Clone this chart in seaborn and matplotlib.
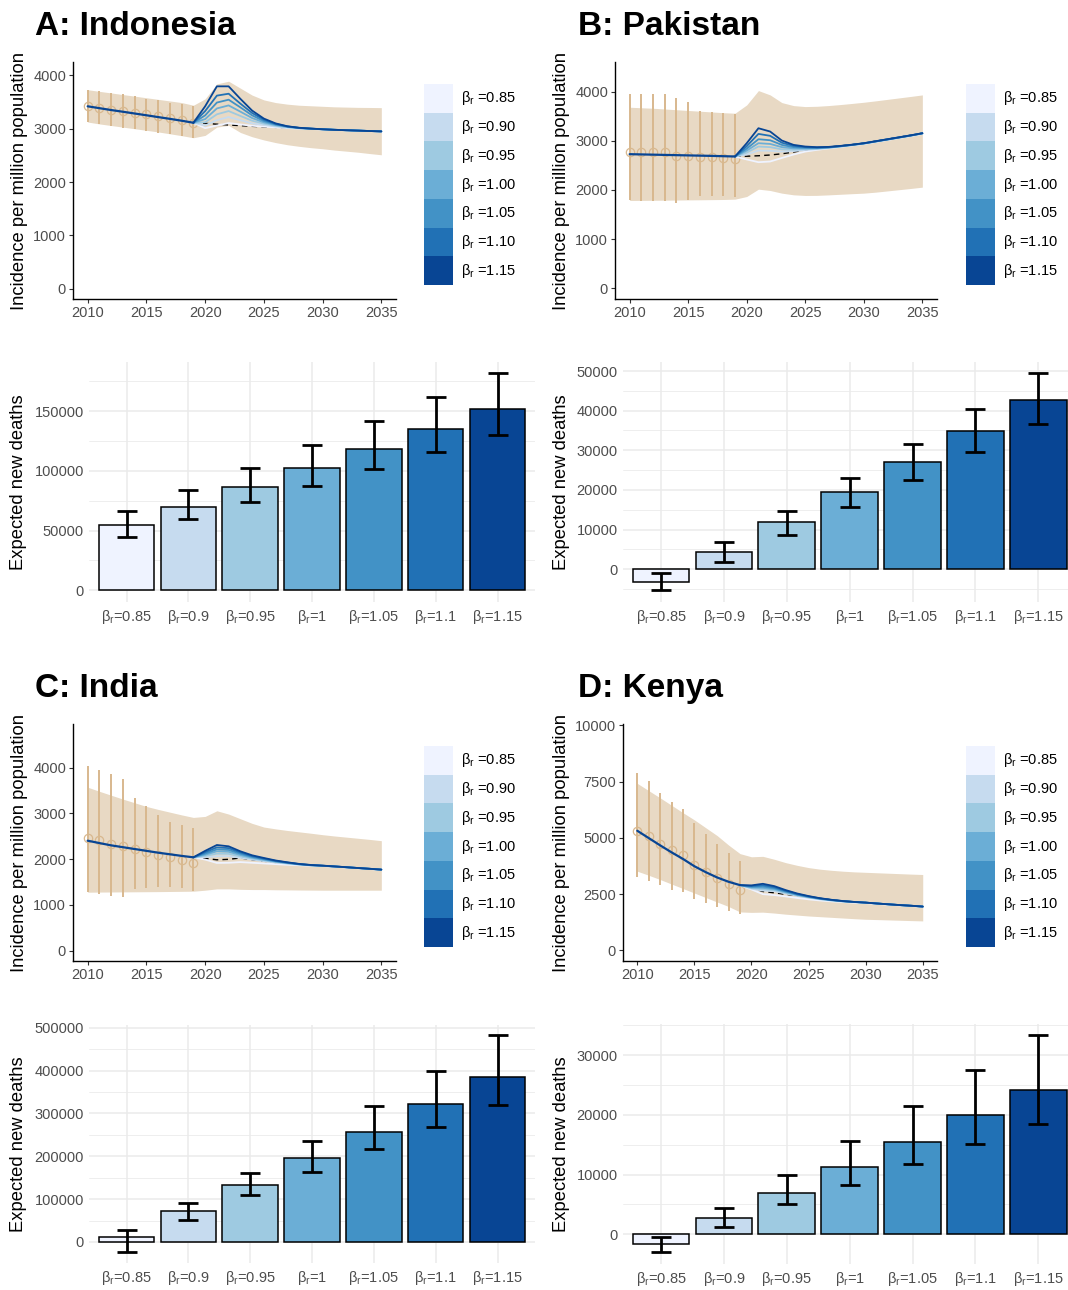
import numpy as np
import pandas as pd
import matplotlib
matplotlib.use("Agg")
import matplotlib.pyplot as plt
from matplotlib.patches import Rectangle
from matplotlib.ticker import MultipleLocator, StrMethodFormatter
import seaborn as sns

sns.set_theme(style="white")
plt.rcParams['font.family'] = ['Liberation Sans', 'DejaVu Sans']
plt.rcParams['mathtext.fontset'] = 'custom'
plt.rcParams['mathtext.rm'] = 'Liberation Sans'
plt.rcParams['mathtext.it'] = 'Liberation Sans:italic'
plt.rcParams['mathtext.bf'] = 'Liberation Sans:bold'

# ---------------------------------------------------------------- data
YEARS_ALL = list(range(2010, 2036))
YEARS_OBS = list(range(2010, 2020))
YEARS_PROJ = list(range(2019, 2036))

BETAS = ["0.85", "0.90", "0.95", "1.00", "1.05", "1.10", "1.15"]
BAR_TICKS = ["0.85", "0.9", "0.95", "1", "1.05", "1.1", "1.15"]
BLUES = ["#EFF3FF", "#C6DBEF", "#9ECAE1", "#6BAED6", "#4292C6", "#2171B5", "#084594"]

# Indonesia
IDN_FIT = [3420, 3385, 3350, 3318, 3285, 3252, 3218, 3185, 3150, 3112]
IDN_OBS = [3420, 3388, 3356, 3331, 3300, 3269, 3238, 3206, 3169, 3112]
IDN_OBS_LO = [3125, 3081, 3044, 3012, 2988, 2956, 2925, 2894, 2856, 2831]
IDN_OBS_HI = [3731, 3706, 3675, 3644, 3606, 3562, 3531, 3487, 3469, 3419]
IDN_BAND_HI = [3731, 3700, 3670, 3640, 3610, 3580, 3550, 3520, 3490, 3440, 3560, 3840, 3890,
               3760, 3630, 3540, 3490, 3460, 3440, 3430, 3420, 3410, 3405, 3400, 3398, 3395]
IDN_BAND_LO = [3125, 3090, 3060, 3030, 3000, 2970, 2940, 2905, 2870, 2831, 2875, 3031, 3062,
               2930, 2850, 2790, 2740, 2700, 2670, 2645, 2625, 2600, 2580, 2560, 2535, 2512]
IDN_BASE = [3112, 3100, 3085, 3070, 3058, 3045, 3035, 3025, 3015, 3005, 2997, 2990, 2980, 2972, 2965, 2957, 2950]
IDN_B085 = [3112, 3010, 3060, 3106, 3080, 3055, 3040, 3025, 3012, 3002, 2994, 2987, 2979, 2971, 2964, 2956, 2949]
IDN_B090 = [3112, 3060, 3160, 3219, 3160, 3100, 3070, 3040, 3020, 3005, 2996, 2988, 2980, 2972, 2965, 2957, 2950]
IDN_B095 = [3112, 3120, 3270, 3331, 3240, 3150, 3095, 3055, 3028, 3010, 2998, 2989, 2980, 2972, 2965, 2957, 2950]
IDN_B100 = [3112, 3180, 3380, 3437, 3320, 3200, 3120, 3068, 3035, 3013, 3000, 2990, 2980, 2972, 2965, 2957, 2950]
IDN_B105 = [3112, 3250, 3490, 3544, 3400, 3250, 3145, 3080, 3040, 3015, 3001, 2990, 2980, 2972, 2965, 2957, 2950]
IDN_B110 = [3112, 3330, 3620, 3656, 3470, 3295, 3170, 3090, 3043, 3016, 3002, 2990, 2980, 2972, 2965, 2957, 2950]
IDN_B115 = [3112, 3420, 3794, 3794, 3560, 3340, 3190, 3100, 3046, 3018, 3003, 2990, 2980, 2972, 2965, 2957, 2950]
IDN_DEATHS = [54500, 70100, 86000, 102200, 118400, 135200, 152000]
IDN_DEATHS_LO = [44700, 59500, 73500, 87400, 101100, 115400, 129600]
IDN_DEATHS_HI = [66200, 83800, 102500, 121500, 141600, 161500, 182100]

# Pakistan
PAK_FIT = [2727, 2722, 2717, 2712, 2707, 2702, 2697, 2692, 2686, 2680]
PAK_OBS = [2767, 2767, 2774, 2767, 2693, 2693, 2673, 2666, 2652, 2625]
PAK_OBS_LO = [1786, 1773, 1766, 1766, 1732, 1786, 1881, 1867, 1867, 1854]
PAK_OBS_HI = [3945, 3958, 3958, 3945, 3877, 3796, 3606, 3579, 3559, 3539]
PAK_BAND_HI = [3681, 3670, 3660, 3645, 3630, 3615, 3600, 3585, 3570, 3559, 3728, 4019, 3931,
               3775, 3714, 3694, 3700, 3715, 3735, 3758, 3782, 3810, 3840, 3870, 3900, 3931]
PAK_BAND_LO = [1786, 1788, 1790, 1792, 1795, 1798, 1800, 1803, 1806, 1813, 1867, 2016, 1989,
               1935, 1901, 1888, 1890, 1900, 1912, 1924, 1935, 1955, 1980, 2005, 2030, 2057]
PAK_BASE = [2680, 2685, 2695, 2710, 2735, 2770, 2810, 2840, 2870, 2895, 2920, 2950, 2990, 3030, 3070, 3110, 3153]
PAK_B085 = [2680, 2620, 2564, 2578, 2650, 2720, 2780, 2815, 2845, 2875, 2905, 2935, 2975, 3015, 3055, 3095, 3140]
PAK_B090 = [2680, 2720, 2801, 2795, 2780, 2790, 2812, 2830, 2852, 2880, 2910, 2940, 2980, 3020, 3060, 3100, 3145]
PAK_B095 = [2680, 2760, 2882, 2870, 2825, 2818, 2828, 2839, 2857, 2883, 2912, 2942, 2982, 3022, 3062, 3102, 3147]
PAK_B100 = [2680, 2800, 2950, 2935, 2870, 2845, 2843, 2847, 2862, 2886, 2914, 2944, 2984, 3024, 3064, 3104, 3149]
PAK_B105 = [2680, 2840, 3031, 3010, 2915, 2870, 2857, 2855, 2866, 2889, 2916, 2946, 2986, 3026, 3066, 3106, 3151]
PAK_B110 = [2680, 2890, 3139, 3100, 2960, 2895, 2870, 2862, 2870, 2892, 2918, 2948, 2988, 3028, 3068, 3108, 3152]
PAK_B115 = [2680, 2950, 3254, 3187, 3004, 2916, 2882, 2869, 2875, 2895, 2920, 2950, 2990, 3030, 3070, 3110, 3153]
PAK_DEATHS = [-3100, 4360, 11990, 19530, 27070, 34870, 42580]
PAK_DEATHS_LO = [-5280, 1760, 8630, 15760, 22630, 29590, 36630]
PAK_DEATHS_HI = [-1000, 6790, 14750, 23050, 31520, 40490, 49450]

# India
IND_FIT = [2402, 2350, 2300, 2260, 2220, 2180, 2140, 2105, 2070, 2039]
IND_OBS = [2460, 2409, 2337, 2279, 2228, 2163, 2097, 2039, 1988, 1916]
IND_OBS_LO = [1277, 1241, 1205, 1168, 1350, 1364, 1393, 1393, 1372, 1299]
IND_OBS_HI = [4042, 3948, 3853, 3745, 3331, 3149, 2954, 2816, 2736, 2670]
IND_BAND_HI = [3570, 3480, 3395, 3310, 3230, 3150, 3085, 3025, 2965, 2910, 2932, 3055, 2983,
               2881, 2780, 2700, 2660, 2625, 2595, 2565, 2533, 2505, 2480, 2455, 2430, 2402]
IND_BAND_LO = [1277, 1280, 1282, 1284, 1286, 1288, 1290, 1293, 1296, 1299, 1321, 1350, 1350,
               1340, 1335, 1335, 1330, 1328, 1325, 1323, 1321, 1321, 1321, 1321, 1321, 1321]
IND_BASE = [2039, 2015, 1985, 1995, 2025, 1988, 1954, 1924, 1900, 1880, 1862, 1850, 1837, 1820, 1803, 1786, 1768]
IND_B085 = [2039, 1990, 1916, 1920, 1935, 1920, 1905, 1890, 1877, 1866, 1856, 1848, 1835, 1818, 1801, 1784, 1767]
IND_B090 = [2039, 2045, 2061, 2065, 2030, 1990, 1955, 1925, 1900, 1880, 1862, 1850, 1837, 1820, 1803, 1786, 1768]
IND_B095 = [2039, 2070, 2119, 2115, 2060, 2010, 1970, 1935, 1908, 1883, 1864, 1852, 1838, 1821, 1804, 1787, 1769]
IND_B100 = [2039, 2095, 2170, 2160, 2090, 2030, 1985, 1945, 1914, 1886, 1866, 1854, 1839, 1822, 1805, 1788, 1770]
IND_B105 = [2039, 2120, 2213, 2200, 2118, 2048, 1999, 1953, 1920, 1889, 1868, 1855, 1840, 1823, 1805, 1788, 1770]
IND_B110 = [2039, 2150, 2257, 2240, 2145, 2065, 2012, 1962, 1925, 1892, 1870, 1856, 1840, 1823, 1806, 1789, 1771]
IND_B115 = [2039, 2180, 2308, 2279, 2170, 2083, 2025, 1970, 1930, 1895, 1872, 1858, 1841, 1824, 1806, 1789, 1771]
IND_DEATHS = [10900, 71500, 133000, 195200, 257400, 321200, 384900]
IND_DEATHS_LO = [-24100, 50500, 109600, 164000, 216200, 268300, 320400]
IND_DEATHS_HI = [28000, 90200, 160200, 236400, 317300, 398900, 482900]

# Kenya
KEN_FIT = [5317, 4993, 4669, 4359, 4065, 3741, 3476, 3240, 3049, 2901]
KEN_OBS = [5317, 5066, 4713, 4448, 4256, 3800, 3490, 3196, 2931, 2680]
KEN_OBS_LO = [3270, 3078, 2887, 2695, 2577, 2297, 2121, 1944, 1753, 1605]
KEN_OBS_HI = [7864, 7526, 7010, 6583, 6289, 5655, 5184, 4742, 4330, 3976]
KEN_BAND_HI = [7423, 7100, 6780, 6450, 6120, 5800, 5450, 5100, 4680, 4300, 4160, 4180, 4050,
               3900, 3780, 3680, 3610, 3560, 3520, 3490, 3470, 3450, 3430, 3410, 3390, 3373]
KEN_BAND_LO = [3520, 3340, 3150, 2950, 2750, 2550, 2350, 2150, 1950, 1710, 1690, 1700, 1660,
               1610, 1570, 1530, 1500, 1470, 1440, 1410, 1384, 1370, 1355, 1340, 1325, 1311]
KEN_BASE = [2901, 2780, 2620, 2560, 2490, 2430, 2380, 2310, 2245, 2190, 2155, 2125, 2085, 2050, 2015, 1985, 1950]
KEN_B085 = [2901, 2710, 2500, 2460, 2400, 2330, 2270, 2220, 2180, 2150, 2120, 2100, 2065, 2030, 2000, 1970, 1938]
KEN_B090 = [2901, 2740, 2660, 2630, 2530, 2425, 2345, 2270, 2215, 2175, 2145, 2118, 2080, 2045, 2010, 1980, 1945]
KEN_B095 = [2901, 2770, 2720, 2675, 2560, 2445, 2358, 2282, 2225, 2180, 2148, 2120, 2082, 2047, 2012, 1982, 1947]
KEN_B100 = [2901, 2800, 2780, 2720, 2590, 2465, 2371, 2292, 2233, 2184, 2150, 2122, 2083, 2048, 2013, 1983, 1948]
KEN_B105 = [2901, 2830, 2840, 2765, 2620, 2485, 2385, 2302, 2240, 2188, 2152, 2123, 2084, 2049, 2014, 1984, 1949]
KEN_B110 = [2901, 2860, 2900, 2810, 2650, 2505, 2400, 2312, 2245, 2192, 2154, 2124, 2085, 2050, 2015, 1985, 1950]
KEN_B115 = [2901, 2890, 2960, 2857, 2680, 2530, 2415, 2320, 2250, 2195, 2155, 2125, 2085, 2050, 2015, 1985, 1950]
KEN_DEATHS = [-1560, 2790, 6920, 11270, 15500, 19910, 24200]
KEN_DEATHS_LO = [-3010, 1280, 5020, 8310, 11770, 15170, 18460]
KEN_DEATHS_HI = [-390, 4400, 9870, 15620, 21530, 27440, 33300]

# ---------------------------------------------------------------- styling
W, H = 1068, 1290
BAND = "#E8D9C4"
OBS_COL = "#D8B88E"
TICK_COL = "#4D4D4D"
GRID = "#EBEBEB"

LEGEND_LABELS = [r"β$_\mathregular{r}$ =" + b for b in BETAS]
BAR_LABELS = [r"β$_\mathregular{r}$=" + b for b in BAR_TICKS]

fig = plt.figure(figsize=(W / 100, H / 100), dpi=100)


def box(x0, y0, x1, y1):
    return [x0 / W, 1 - y1 / H, (x1 - x0) / W, (y1 - y0) / H]


def label_at(ax, text, x_px, x0, x1):
    ax.set_ylabel(text, fontsize=13.2, color="black", va="center")
    ax.yaxis.set_label_coords((x_px - x0) / (x1 - x0), 0.5)


def line_panel(rect, fit, obs, obs_lo, obs_hi, band_hi, band_lo, base, scen,
               ylim, yticks, ylabel_x):
    x0, y0, x1, y1 = rect
    ax = fig.add_axes(box(*rect))
    ax.fill_between(YEARS_ALL, band_lo, band_hi, color=BAND, lw=0, zorder=1)
    obs = np.array(obs)
    ax.errorbar(YEARS_OBS, obs, yerr=[obs - np.array(obs_lo), np.array(obs_hi) - obs],
                fmt="o", ms=6, mfc="none", mec=OBS_COL, mew=0.9,
                ecolor=OBS_COL, elinewidth=1.4, capsize=0, zorder=2)
    ax.plot(YEARS_PROJ, base, color="black", lw=1.0, dashes=(4, 3), zorder=3)
    long = pd.DataFrame({
        "year": YEARS_PROJ * len(BETAS),
        "incidence": np.concatenate(scen),
        "beta": np.repeat(BETAS, len(YEARS_PROJ)),
    })
    sns.lineplot(data=long, x="year", y="incidence", hue="beta", hue_order=BETAS,
                 palette=BLUES, linewidth=1.3, legend=False, errorbar=None,
                 ax=ax, zorder=4)
    sns.lineplot(x=YEARS_OBS, y=fit, color=BLUES[-1], linewidth=1.6, ax=ax, zorder=5)
    ax.set_xlim(2008.75, 2036.25)
    ax.set_ylim(*ylim)
    ax.set_xticks([2010, 2015, 2020, 2025, 2030, 2035])
    ax.set_yticks(yticks)
    ax.yaxis.set_major_formatter(StrMethodFormatter("{x:.0f}"))
    for s in ["top", "right"]:
        ax.spines[s].set_visible(False)
    for s in ["left", "bottom"]:
        ax.spines[s].set_color("black")
        ax.spines[s].set_linewidth(1.0)
    ax.tick_params(axis="both", which="major", bottom=True, left=True, length=3,
                   width=0.8, color="#333333", labelsize=10.5, labelcolor=TICK_COL, pad=2)
    ax.set_xlabel("")
    label_at(ax, "Incidence per million population", ylabel_x, x0, x1)
    return ax


def legend_panel(rect, label_x):
    x0, y0, x1, y1 = rect
    lax = fig.add_axes(box(*rect))
    lax.set_xlim(0, 1)
    lax.set_ylim(len(BETAS), 0)
    lax.axis("off")
    for i, (c, lab) in enumerate(zip(BLUES, LEGEND_LABELS)):
        lax.add_patch(Rectangle((0, i), 1, 1, facecolor=c, edgecolor="none"))
        lax.text((label_x - x0) / (x1 - x0), i + 0.5, lab, fontsize=10.5,
                 color="black", ha="left", va="center")


def bar_panel(rect, vals, lo, hi, ylim, major, minor, ylabel_x):
    x0, y0, x1, y1 = rect
    ax = fig.add_axes(box(*rect))
    df = pd.DataFrame({"beta": BAR_LABELS, "deaths": vals})
    sns.barplot(data=df, x="beta", y="deaths", hue="beta", hue_order=BAR_LABELS,
                palette=BLUES, saturation=1, dodge=False, width=0.9, edgecolor="black",
                linewidth=1.1, errorbar=None, legend=False, ax=ax, zorder=2)
    vals = np.array(vals)
    ax.errorbar(np.arange(len(vals)), vals,
                yerr=[vals - np.array(lo), np.array(hi) - vals],
                fmt="none", ecolor="black", elinewidth=2.0, capsize=7, capthick=2.0,
                zorder=3)
    ax.set_xlim(-0.6, 6.6)
    ax.set_ylim(*ylim)
    ax.yaxis.set_major_locator(MultipleLocator(major))
    ax.yaxis.set_minor_locator(MultipleLocator(minor))
    ax.yaxis.set_major_formatter(StrMethodFormatter("{x:.0f}"))
    ax.set_axisbelow(True)
    ax.grid(True, which="major", color=GRID, linewidth=1.1)
    ax.grid(True, which="minor", axis="y", color=GRID, linewidth=0.6)
    for s in ax.spines.values():
        s.set_visible(False)
    ax.tick_params(axis="both", which="both", length=0, labelsize=10.5,
                   labelcolor=TICK_COL)
    ax.tick_params(axis="x", pad=4)
    ax.tick_params(axis="y", pad=4)
    ax.set_xlabel("")
    label_at(ax, "Expected new deaths", ylabel_x, x0, x1)
    return ax


panels = [
    dict(title="A: Indonesia", tx=35, ty=35,
         line=(73, 62, 396, 299), leg=(424, 84, 453, 285), legx=461,
         bar=(89.4, 362, 534.6, 602), ylx=19,
         fit=IDN_FIT, obs=IDN_OBS, lo=IDN_OBS_LO, hi=IDN_OBS_HI,
         bhi=IDN_BAND_HI, blo=IDN_BAND_LO, base=IDN_BASE,
         scen=[IDN_B085, IDN_B090, IDN_B095, IDN_B100, IDN_B105, IDN_B110, IDN_B115],
         ylim=(-190, 4250), yticks=[0, 1000, 2000, 3000, 4000],
         d=IDN_DEATHS, dlo=IDN_DEATHS_LO, dhi=IDN_DEATHS_HI,
         bylim=(-9800, 191000), bmaj=50000, bmin=25000),
    dict(title="B: Pakistan", tx=578, ty=35,
         line=(615, 62, 937, 299), leg=(966, 84, 995, 285), legx=1003,
         bar=(623.3, 362, 1076, 602), ylx=561,
         fit=PAK_FIT, obs=PAK_OBS, lo=PAK_OBS_LO, hi=PAK_OBS_HI,
         bhi=PAK_BAND_HI, blo=PAK_BAND_LO, base=PAK_BASE,
         scen=[PAK_B085, PAK_B090, PAK_B095, PAK_B100, PAK_B105, PAK_B110, PAK_B115],
         ylim=(-216, 4600), yticks=[0, 1000, 2000, 3000, 4000],
         d=PAK_DEATHS, dlo=PAK_DEATHS_LO, dhi=PAK_DEATHS_HI,
         bylim=(-8245, 52270), bmaj=10000, bmin=5000),
    dict(title="C: India", tx=35, ty=697,
         line=(73, 724, 396, 961), leg=(424, 746, 453, 947), legx=461,
         bar=(89.4, 1025, 534.6, 1263), ylx=19,
         fit=IND_FIT, obs=IND_OBS, lo=IND_OBS_LO, hi=IND_OBS_HI,
         bhi=IND_BAND_HI, blo=IND_BAND_LO, base=IND_BASE,
         scen=[IND_B085, IND_B090, IND_B095, IND_B100, IND_B105, IND_B110, IND_B115],
         ylim=(-225, 4950), yticks=[0, 1000, 2000, 3000, 4000],
         d=IND_DEATHS, dlo=IND_DEATHS_LO, dhi=IND_DEATHS_HI,
         bylim=(-49000, 506300), bmaj=100000, bmin=50000),
    dict(title="D: Kenya", tx=578, ty=697,
         line=(623, 724, 937, 961), leg=(966, 746, 995, 947), legx=1003,
         bar=(623.3, 1024, 1076, 1264), ylx=561,
         fit=KEN_FIT, obs=KEN_OBS, lo=KEN_OBS_LO, hi=KEN_OBS_HI,
         bhi=KEN_BAND_HI, blo=KEN_BAND_LO, base=KEN_BASE,
         scen=[KEN_B085, KEN_B090, KEN_B095, KEN_B100, KEN_B105, KEN_B110, KEN_B115],
         ylim=(-470, 10060), yticks=[0, 2500, 5000, 7500, 10000],
         d=KEN_DEATHS, dlo=KEN_DEATHS_LO, dhi=KEN_DEATHS_HI,
         bylim=(-4970, 35190), bmaj=10000, bmin=5000),
]

for p in panels:
    fig.text(p["tx"] / W, 1 - p["ty"] / H, p["title"], fontsize=24,
             fontweight="bold", color="black", ha="left", va="baseline")
    line_panel(p["line"], p["fit"], p["obs"], p["lo"], p["hi"], p["bhi"], p["blo"],
               p["base"], p["scen"], p["ylim"], p["yticks"], p["ylx"])
    legend_panel(p["leg"], p["legx"])
    bar_panel(p["bar"], p["d"], p["dlo"], p["dhi"], p["bylim"], p["bmaj"], p["bmin"],
              p["ylx"])

fig.savefig("out.png", dpi=100)
